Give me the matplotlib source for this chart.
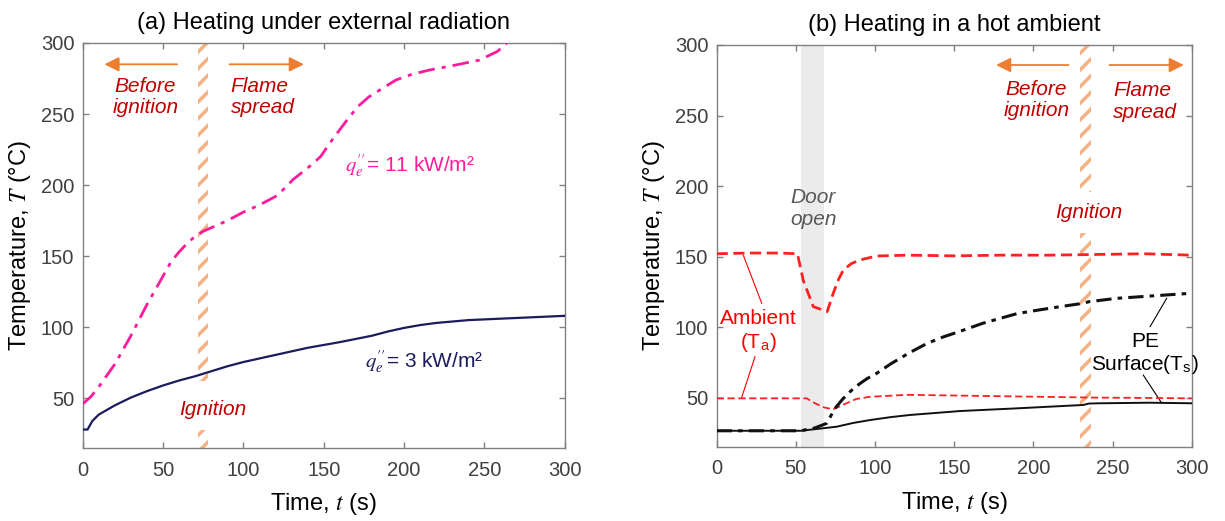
import numpy as np
import matplotlib
matplotlib.use('Agg')
import matplotlib.pyplot as plt

# ---- data ----
# (a) external radiation
t_11 = [0, 5, 10, 20, 30, 40, 50, 55, 60, 65, 70, 75, 80, 90, 100, 110, 120, 125, 131, 140, 148, 156,
        164, 171, 178, 185, 195, 205, 216, 230, 247, 258, 264]
T_11 = [46, 51, 58, 74, 94, 116, 136, 146, 153, 159, 164, 167.5, 170, 175, 181, 186, 192, 197, 204, 212,
        220, 233, 245, 255, 262, 267, 274, 278, 281, 284, 288, 294, 300]
t_3 = [0, 3, 6, 10, 20, 30, 40, 50, 60, 70, 80, 90, 100, 120, 140, 160, 180, 190, 200, 210, 220, 240,
       260, 280, 300]
T_3 = [28, 28, 34, 38.5, 45, 50.5, 55, 59, 62.5, 65.5, 69, 72.5, 75.5, 80.5, 85.5, 89.5, 94, 97, 99.5,
       101.5, 103, 105, 106, 107, 108]
t_ign_a = (72, 78)

# (b) hot ambient
t_amb_hi = [0, 20, 40, 51, 54.7, 61, 66, 69.8, 73.6, 77, 80, 85, 90.5, 101, 120, 150, 180, 210, 240, 270, 300]
T_amb_hi = [152, 152.5, 152.5, 152, 133, 114.5, 112.5, 111, 124, 134, 140.5, 145, 147.6, 150.4, 151, 150.5,
            151, 151, 151.5, 152, 151]
t_amb_lo = [0, 20, 40, 56.8, 62, 68, 73.6, 80, 88, 96.8, 120, 150, 180, 210, 240, 270, 300]
T_amb_lo = [49.5, 49.5, 49.5, 49.5, 46, 43, 41.7, 45, 49, 50.6, 52, 51.5, 51, 50.5, 50, 49.8, 49.5]
t_pe_top = [0, 20, 40, 53, 62, 69.5, 74.7, 80, 85, 90.5, 95, 101, 110, 122, 133, 143, 153.7, 168, 180,
            189.5, 200, 210, 220, 231.5, 235, 252.6, 273.6, 300]
T_pe_top = [26.5, 26.5, 26.5, 26.5, 28.5, 31.8, 42.4, 49.5, 55, 60, 63.5, 67.2, 74, 82, 88.5, 93, 97,
            102.7, 106.5, 109.5, 111.5, 113.3, 115, 116.9, 118, 120.4, 122, 124]
t_pe_surf = [0, 20, 40, 53, 65, 75.8, 86, 96.8, 110, 122, 153.7, 189.5, 231.5, 235, 242, 273.6, 300]
T_pe_surf = [26.5, 26.5, 26.5, 26.5, 28, 29.4, 32, 34.1, 36.2, 37.7, 40.5, 42.4, 44.8, 45.8, 46, 46.4, 46]
t_door = (53, 67.5)
t_ign_b = (229.5, 236.5)

plt.rcParams['font.family'] = ['Liberation Sans', 'DejaVu Sans']
plt.rcParams['mathtext.fontset'] = 'stix'
plt.rcParams['hatch.linewidth'] = 2.5

fig = plt.figure(figsize=(12.25, 5.21), dpi=100)
ax1 = fig.add_axes([82.7 / 1225, 73 / 521, 482 / 1225, 405 / 521])
ax2 = fig.add_axes([716.7 / 1225, 74 / 521, 475 / 1225, 402 / 521])

dark_red = '#C00000'
orange = '#ED7D31'
hatch_col = '#F4B183'
fs_note = 15


def style(ax, title):
    ax.set_xlim(0, 300)
    ax.set_ylim(15, 300)
    ax.set_xticks(np.arange(0, 301, 50))
    ax.set_yticks(np.arange(50, 301, 50))
    ax.tick_params(direction='in', top=True, right=True, length=4, width=1, color='#808080',
                   labelcolor='#404040', labelsize=14.5)
    ax.tick_params(axis='x', pad=9)
    ax.tick_params(axis='y', pad=6)
    for s in ax.spines.values():
        s.set_color('#808080')
        s.set_linewidth(1)
    ax.set_xlabel('Time, $t$ (s)', fontsize=17, labelpad=8)
    ax.set_ylabel('Temperature, $T$ (°C)', fontsize=17, labelpad=6)
    ax.set_title(title, fontsize=17, pad=10)


def ign_band(ax, xr, gap):
    for y0, y1 in [(15, gap[0]), (gap[1], 300)]:
        ax.fill_betweenx([y0, y1], xr[0], xr[1], facecolor='none', edgecolor=hatch_col,
                         hatch='//', linewidth=0, zorder=1)


def arrows(ax, left, right, y):
    for tail, tip in [left, right]:
        ax.annotate('', xy=(tip, y), xytext=(tail, y),
                    arrowprops=dict(arrowstyle='-|>', color=orange, lw=1.3, mutation_scale=22))


# ---- (a) ----
style(ax1, '(a) Heating under external radiation')
ign_band(ax1, t_ign_a, (28, 62))
ax1.plot(t_11, T_11, color='#FF1C9C', lw=2, ls=(0, (6, 2.5, 1.5, 2.5)), zorder=3)
ax1.plot(t_3, T_3, color='#1B1B5E', lw=1.6, zorder=3)
arrows(ax1, (60.5, 11.8), (89.6, 139.4), 285)
ax1.text(39, 262, 'Before\nignition', color=dark_red, style='italic', fontsize=fs_note,
         ha='center', va='center', linespacing=1.15)
ax1.text(92, 262, 'Flame\nspread', color=dark_red, style='italic', fontsize=fs_note,
         ha='left', va='center', linespacing=1.15)
ax1.text(81, 42, 'Ignition', color=dark_red, style='italic', fontsize=fs_note, ha='center', va='center')
ax1.text(163, 214, "$q_e^{\\prime\\prime}$= 11 kW/m²", color='#FF1C9C', fontsize=15,
         ha='left', va='center')
ax1.text(176, 76, "$q_e^{\\prime\\prime}$= 3 kW/m²", color='#1B1B5E', fontsize=15,
         ha='left', va='center')

# ---- (b) ----
style(ax2, '(b) Heating in a hot ambient')
ax2.axvspan(t_door[0], t_door[1], color='#EBEBEB', lw=0, zorder=0)
ign_band(ax2, t_ign_b, (166.5, 196))
ax2.plot(t_amb_hi, T_amb_hi, color='#FF2020', lw=2, ls=(0, (4, 2)), zorder=3)
ax2.plot(t_amb_lo, T_amb_lo, color='#FF2020', lw=1.3, ls=(0, (4, 2)), zorder=3)
ax2.plot(t_pe_top, T_pe_top, color='#111111', lw=2.2, ls=(0, (5, 2, 1.5, 2)), zorder=3)
ax2.plot(t_pe_surf, T_pe_surf, color='#111111', lw=1.4, zorder=3)
arrows(ax2, (224, 174.7), (246.3, 296.8), 285.8)
ax2.text(202, 261, 'Before\nignition', color=dark_red, style='italic', fontsize=fs_note,
         ha='center', va='center', linespacing=1.15)
ax2.text(250.5, 260, 'Flame\nspread', color=dark_red, style='italic', fontsize=fs_note,
         ha='left', va='center', linespacing=1.15)
ax2.text(235, 181, 'Ignition', color=dark_red, style='italic', fontsize=fs_note, ha='center', va='center')
ax2.text(61, 184, 'Door\nopen', color='#595959', style='italic', fontsize=fs_note,
         ha='center', va='center', linespacing=1.15)
ax2.text(26.3, 97, 'Ambient\n(T$_{\\mathregular{a}}$)', color='#FF0000', fontsize=fs_note,
         ha='center', va='center', linespacing=1.15)
ax2.plot([16.8, 28.4], [151, 117], color='#FF0000', lw=0.8)
ax2.plot([24.2, 15.8], [79, 50.2], color='#FF0000', lw=0.8)
ax2.text(270.5, 81, 'PE\nSurface(T$_{\\mathregular{s}}$)', color='black', fontsize=fs_note,
         ha='center', va='center', linespacing=1.15)
ax2.plot([273.7, 284.2], [100.3, 120.4], color='black', lw=0.8)
ax2.plot([269.4, 281], [66, 46.2], color='black', lw=0.8)

fig.savefig('out.png', dpi=100)
